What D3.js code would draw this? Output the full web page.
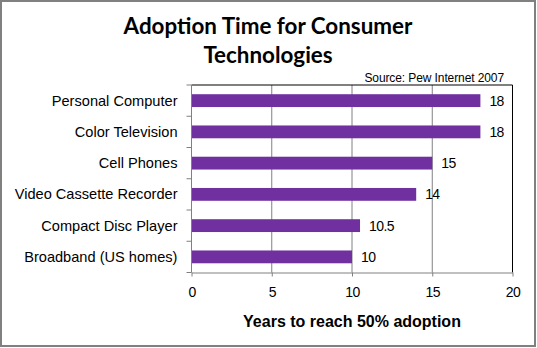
<!DOCTYPE html>
<html>
<head>
<meta charset="utf-8">
<script src="https://cdn.jsdelivr.net/npm/d3@7.9.0/dist/d3.min.js"></script>
<style>
  body { margin: 0; background: #fff; }
  svg { display: block; }
  text { font-family: "Liberation Sans", Arial, sans-serif; fill: #000; }
  .title { font-family: Lato, "Open Sans", sans-serif; font-weight: bold; font-size: 22.4px; }
</style>
</head>
<body>
<svg id="chart" width="537" height="348"></svg>
<script>
// data
const technologies = [
  'Personal Computer',
  'Color Television',
  'Cell Phones',
  'Video Cassette Recorder',
  'Compact Disc Player',
  'Broadband (US homes)'
];
const yearsToHalf = [18, 18, 15, 14, 10.5, 10];
const xTicks = [0, 5, 10, 15, 20];

const titleLines = ['Adoption Time for Consumer', 'Technologies'];
const sourceNote = 'Source: Pew Internet 2007';
const xTitle = 'Years to reach 50% adoption';

const svg = d3.select('#chart');

// outer frame
svg.append('rect')
  .attr('x', 1).attr('y', 1)
  .attr('width', 534).attr('height', 345)
  .attr('fill', '#fff')
  .attr('stroke', '#808080')
  .attr('stroke-width', 2);

const plot = { left: 191.5, right: 512.5, top: 85, bottom: 272.5 };

let x = d3.scaleLinear().domain([0, 20]).range([plot.left, plot.right]);
let y = d3.scaleBand().domain(technologies).range([plot.top, plot.bottom]).paddingInner(0.59).paddingOuter(0.295);
let band = d3.scaleBand().domain(technologies).range([plot.top, plot.bottom]);

// gridlines
svg.append('g')
  .selectAll('line')
  .data(xTicks.slice(1, -1))
  .join('line')
  .attr('x1', (d) => x(d)).attr('x2', (d) => x(d))
  .attr('y1', plot.top).attr('y2', plot.bottom)
  .attr('stroke', '#808080');

// top and right border of plot area
svg.append('path')
  .attr('d', `M${plot.left},${plot.top}H${plot.right}V${plot.bottom}`)
  .attr('fill', 'none')
  .attr('stroke', '#000');

// bars
svg.append('g')
  .selectAll('rect')
  .data(yearsToHalf)
  .join('rect')
  .attr('x', x(0))
  .attr('y', (d, i) => y(technologies[i]))
  .attr('width', (d) => x(d) - x(0))
  .attr('height', y.bandwidth())
  .attr('fill', '#7030A0');

// value labels
svg.append('g')
  .selectAll('text')
  .data(yearsToHalf)
  .join('text')
  .attr('x', (d) => x(d) + 9)
  .attr('y', (d, i) => y(technologies[i]) + y.bandwidth() / 2 + 5)
  .attr('font-size', 14)
  .attr('letter-spacing', -0.6)
  .text((d) => d);

// y axis
const yAxis = svg.append('g').attr('transform', `translate(${plot.left},0)`);
yAxis.append('line')
  .attr('y1', plot.top).attr('y2', plot.bottom)
  .attr('stroke', '#808080');
yAxis.selectAll('.tk')
  .data(technologies.map((t) => band(t)).concat([plot.bottom]))
  .join('line')
  .attr('class', 'tk')
  .attr('x1', -5).attr('x2', 0)
  .attr('y1', (d) => d).attr('y2', (d) => d)
  .attr('stroke', '#808080');
yAxis.selectAll('text')
  .data(technologies)
  .join('text')
  .attr('x', -14)
  .attr('y', (d) => band(d) + band.bandwidth() / 2 + 5)
  .attr('text-anchor', 'end')
  .attr('font-size', 14.6)
  .text((d) => d);

// x axis
const xAxis = svg.append('g')
  .attr('transform', `translate(0,${plot.bottom})`)
  .call(d3.axisBottom(x).tickValues(xTicks).tickSize(4).tickPadding(11).tickSizeOuter(0));
xAxis.select('.domain').attr('stroke', '#808080');
xAxis.selectAll('.tick line').attr('stroke', '#808080');
xAxis.selectAll('.tick text')
  .attr('font-size', 14)
  .attr('letter-spacing', -0.6)
  .attr('font-family', '"Liberation Sans", Arial, sans-serif')
  .attr('fill', '#000');

svg.append('text')
  .attr('x', 352)
  .attr('y', 327)
  .attr('text-anchor', 'middle')
  .attr('font-size', 16)
  .attr('font-weight', 'bold')
  .text(xTitle);

// titles
svg.selectAll('.title')
  .data(titleLines)
  .join('text')
  .attr('class', 'title')
  .attr('x', 268)
  .attr('y', (d, i) => 34 + i * 29)
  .attr('text-anchor', 'middle')
  .text((d) => d);

svg.append('text')
  .attr('x', 504)
  .attr('y', 82)
  .attr('text-anchor', 'end')
  .attr('font-size', 12)
  .attr('letter-spacing', -0.1)
  .text(sourceNote);
</script>
</body>
</html>
